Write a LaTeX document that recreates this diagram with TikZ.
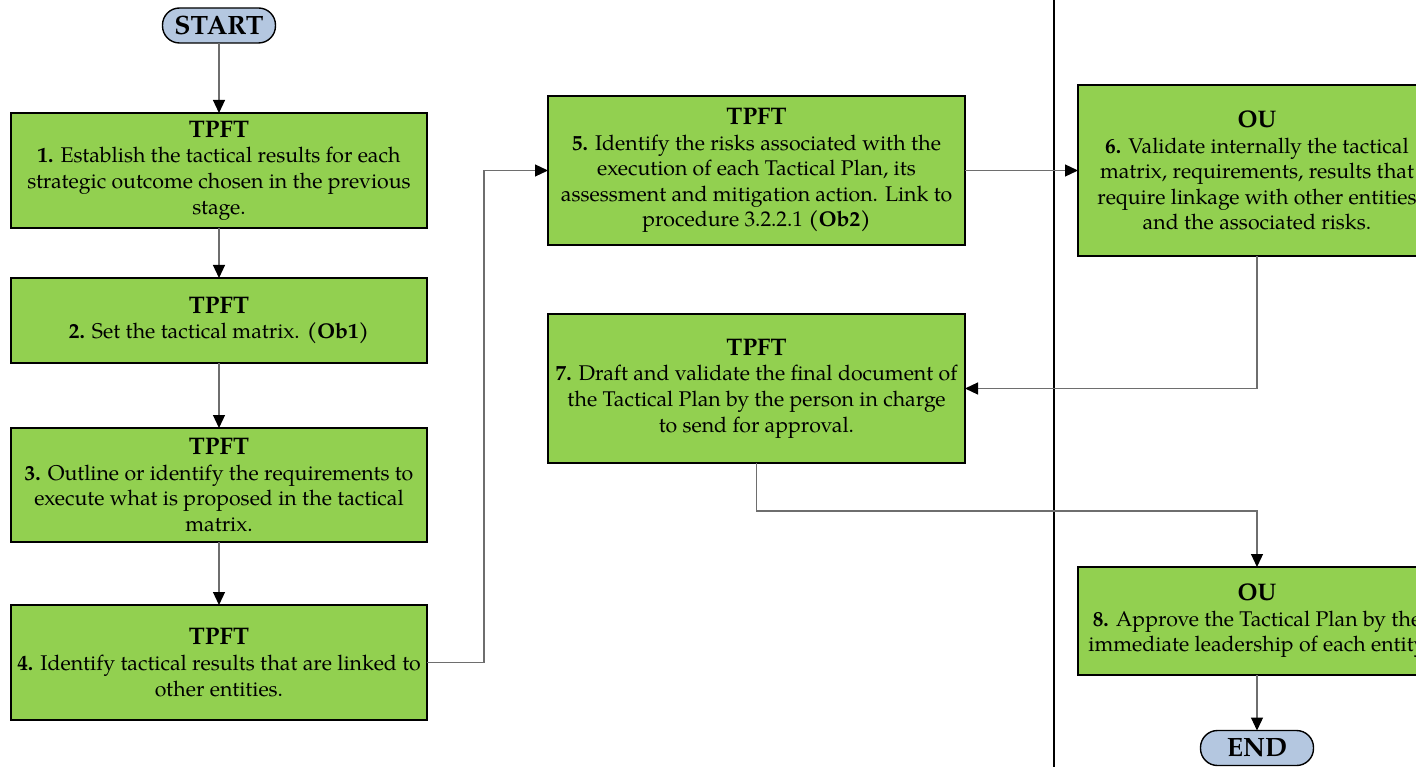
\documentclass[tikz,border=0pt]{standalone}
\usepackage{fontspec}
\setmainfont{texgyrepagella}[Extension=.otf,UprightFont=*-regular,BoldFont=*-bold,ItalicFont=*-italic,BoldItalicFont=*-bolditalic]
\usetikzlibrary{arrows.meta,calc}
\definecolor{boxgreen}{RGB}{146,208,80}
\definecolor{termblue}{RGB}{180,199,224}
\definecolor{linkgray}{RGB}{110,110,110}
% heading line inside a task box
\newcommand{\taskhead}[1]{{\fontsize{24}{28}\selectfont\bfseries #1}}
\begin{document}
\begin{tikzpicture}[x=1pt,y=-1pt,
  every node/.style={inner sep=0pt,outer sep=0pt},
  task/.style={draw=black,line width=1.4pt,fill=boxgreen,rectangle,align=center,
    font=\fontsize{21.3}{25.6}\selectfont},
  term/.style={draw=black,line width=1.4pt,fill=termblue,rectangle,rounded corners=17pt,
    minimum width=113pt,minimum height=35pt,font=\fontsize{26.5}{28}\selectfont\bfseries},
  link/.style={draw=linkgray,line width=1.2pt,-{Triangle[length=13pt,width=12pt,color=black]}}]
\clip (0,0) rectangle (1416,767);
\fill[white] (0,0) rectangle (1416,767);

% lane divider
\draw[black,line width=2pt] (1054,0) -- (1054,767);

% terminals
\node[term] (start) at (219,25.5) {START};
\node[term] (end) at (1257,748) {END};

% left column
\node[task,minimum width=416pt,minimum height=115pt] (b1) at (219,170.5)
  {\taskhead{TPFT}\\\textbf{1.} Establish the tactical results for each\\strategic outcome chosen in the previous\\stage.};
\node[task,minimum width=416pt,minimum height=85pt] (b2) at (219,320.5)
  {\taskhead{TPFT}\\\textbf{2.} Set the tactical matrix. \textbf{(Ob1)}};
\node[task,minimum width=416pt,minimum height=114pt] (b3) at (219,485)
  {\taskhead{TPFT}\\\textbf{3.} Outline or identify the requirements to\\execute what is proposed in the tactical\\matrix.};
\node[task,minimum width=416pt,minimum height=115pt] (b4) at (219,662.5)
  {\taskhead{TPFT}\\\textbf{4.} Identify tactical results that are linked to\\other entities.};

% middle column
\node[task,minimum width=417pt,minimum height=149pt] (b5) at (756.5,170.5)
  {\taskhead{TPFT}\\\textbf{5.} Identify the risks associated with the\\execution of each Tactical Plan, its\\assessment and mitigation action. Link to\\procedure 3.2.2.1 \textbf{(Ob2)}};
\node[task,minimum width=417pt,minimum height=149pt] (b7) at (756.5,388.5)
  {\taskhead{TPFT}\\\textbf{7.} Draft and validate the final document of\\the Tactical Plan by the person in charge\\to send for approval.};

% right column
\node[task,minimum width=358pt,minimum height=171pt] (b6) at (1257,170.5)
  {\taskhead{OU}\\\textbf{6.} Validate internally the tactical\\matrix, requirements, results that\\require linkage with other entities\\and the associated risks.};
\node[task,minimum width=358pt,minimum height=108pt] (b8) at (1257,621)
  {\taskhead{OU}\\\textbf{8.} Approve the Tactical Plan by the\\immediate leadership of each entity};

% connectors
\draw[link] (start) -- (b1);
\draw[link] (b1) -- (b2);
\draw[link] (b2) -- (b3);
\draw[link] (b3) -- (b4);
\draw[link] (b4.east) -- ($(b4.east)+(57,0)$) |- (b5.west);
\draw[link] (b5.east) -- (b6.west);
\draw[link] (b6.south) |- (b7.east);
\draw[link] (b7.south) -- ($(b7.south)+(0,48)$) -| (b8.north);
\draw[link] (b8.south) -- (end.north);
\end{tikzpicture}
\end{document}
